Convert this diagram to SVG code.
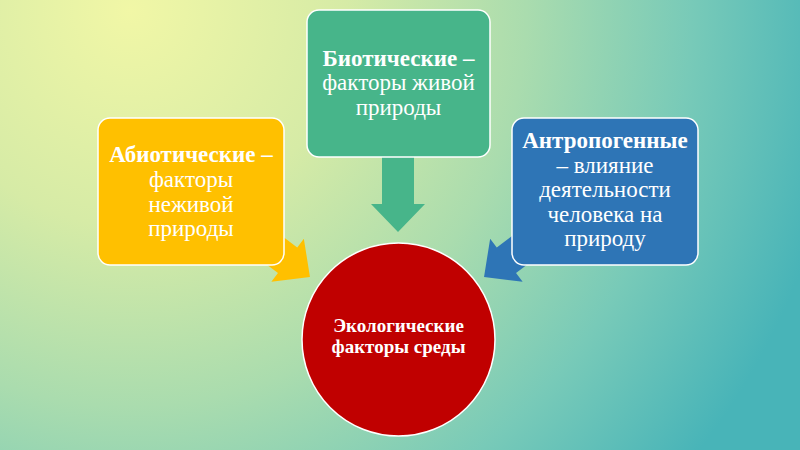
<svg xmlns="http://www.w3.org/2000/svg" width="800" height="450" viewBox="0 0 800 450">
  <defs>
    <radialGradient id="bg" gradientUnits="userSpaceOnUse" cx="130" cy="10" r="720">
      <stop offset="0" stop-color="#f1f7a6"/>
      <stop offset="0.3" stop-color="#d6eba6"/>
      <stop offset="0.55" stop-color="#aadcae"/>
      <stop offset="0.78" stop-color="#78cab8"/>
      <stop offset="1" stop-color="#48b4b8"/>
    </radialGradient>
    <style>
      .box { stroke: #ffffff; stroke-width: 1.5; }
      .t { font-family: "Liberation Serif", "Times New Roman", serif; font-size: 23px; fill: #ffffff; text-anchor: middle; }
      .b { font-weight: bold; }
      .c { font-family: "Liberation Serif", "Times New Roman", serif; font-size: 19px; font-weight: bold; fill: #ffffff; text-anchor: middle; }
    </style>
    <polygon id="arr" points="-16,-70 16,-70 16,0 27,0 0,28 -27,0 -16,0"/>
  </defs>
  <rect width="800" height="450" fill="url(#bg)"/>

  <g id="connectors">
    <use href="#arr" fill="#FFC000" transform="translate(287.6,260.2) rotate(-53)"/>
    <use href="#arr" fill="#47B58A" transform="translate(398,204)"/>
    <use href="#arr" fill="#2E75B6" transform="translate(506.4,260.2) rotate(53)"/>
  </g>

  <g id="abiotic">
    <rect class="box" x="98" y="118" width="186" height="147" rx="12" fill="#FFC000"/>
    <text class="t" x="191" y="162"><tspan class="b">Абиотические –</tspan><tspan x="191" y="187">факторы</tspan><tspan x="191" y="211.5">неживой</tspan><tspan x="191" y="236">природы</tspan></text>
  </g>

  <g id="biotic">
    <rect class="box" x="307" y="10" width="183" height="147" rx="12" fill="#47B58A"/>
    <text class="t" x="398.5" y="65.5"><tspan class="b">Биотические –</tspan><tspan x="398.5" y="90">факторы живой</tspan><tspan x="398.5" y="114.5">природы</tspan></text>
  </g>

  <g id="anthropogenic">
    <rect class="box" x="512" y="118" width="186" height="147" rx="12" fill="#2E75B6"/>
    <text class="t" x="605" y="148"><tspan class="b">Антропогенные</tspan><tspan x="605" y="172.5">– влияние</tspan><tspan x="605" y="197">деятельности</tspan><tspan x="605" y="221.5">человека на</tspan><tspan x="605" y="246">природу</tspan></text>
  </g>

  <g id="ecological">
    <circle cx="398.5" cy="339.5" r="96.5" fill="#C00000" stroke="#ffffff" stroke-width="1.5"/>
    <text class="c" x="398.5" y="332"><tspan>Экологические</tspan><tspan x="398.5" y="353">факторы среды</tspan></text>
  </g>
</svg>
